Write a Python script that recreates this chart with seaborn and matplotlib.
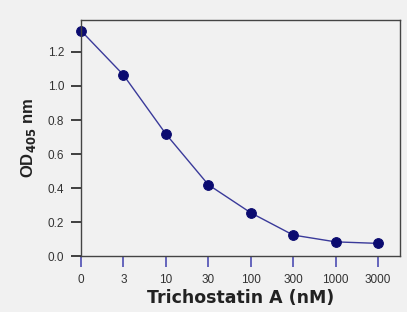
import matplotlib
matplotlib.use("Agg")
import matplotlib.pyplot as plt
import seaborn as sns
import pandas as pd

# data
concentration = ["0", "3", "10", "30", "100", "300", "1000", "3000"]
od405 = [1.325, 1.065, 0.718, 0.42, 0.255, 0.124, 0.084, 0.075]
y_ticks = [0.0, 0.2, 0.4, 0.6, 0.8, 1.0, 1.2]

df = pd.DataFrame({"conc": concentration, "od": od405})

sns.set_style("white")
plt.rcParams["font.family"] = ["Liberation Sans", "DejaVu Sans"]

bg = "#f1f1f1"
fig = plt.figure(figsize=(4.07, 3.12), dpi=100, facecolor=bg)
ax = fig.add_axes([0.199, 0.179, 0.784, 0.757], facecolor=bg)

sns.pointplot(data=df, x="conc", y="od", order=concentration,
              color="#0b0b70", markers="o", linestyles="-",
              markersize=7, linewidth=1.0, ax=ax)
ax.lines[0].set_color("#3a3a9a")
ax.lines[0].set_markerfacecolor("#0b0b70")
ax.lines[0].set_markeredgecolor("#0b0b70")
ax.lines[0].set_clip_on(False)

ax.set_xlim(0, 7.52)
ax.set_ylim(0, 1.388)
ax.set_yticks(y_ticks)
ax.set_yticklabels([f"{v:.1f}" for v in y_ticks])

for s in ax.spines.values():
    s.set_color("#444444")
    s.set_linewidth(1.0)

ax.tick_params(axis="y", left=True, length=7, width=1.2, color="#222222",
               labelsize=8.5, labelcolor="#333333", pad=5)
ax.tick_params(axis="x", bottom=True, length=8, width=1.3, color="#5a5ab8",
               labelsize=8.5, labelcolor="#333333", pad=5)

ax.set_xlabel("Trichostatin A (nM)", fontsize=12.5, fontweight="bold",
              family="DejaVu Sans", color="#222222", labelpad=2)
ax.set_ylabel(r"OD$_{\mathbf{405}}$ nm", fontsize=12, fontweight="bold",
              color="#222222", labelpad=7)

fig.savefig("out.png", dpi=100, facecolor=bg)
